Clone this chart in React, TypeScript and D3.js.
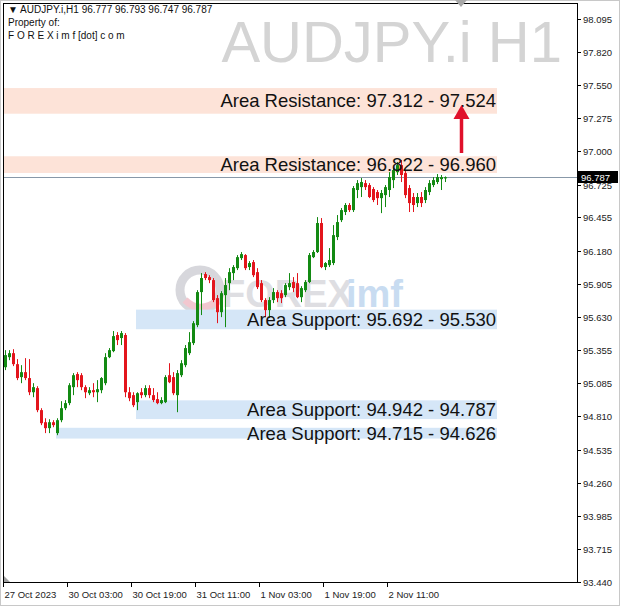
import React from 'react';
import * as d3 from 'd3';

// ---------- DATA ----------
const opens = [
  95.216, 95.299, 95.332, 95.241, 95.134, 95.175, 95.126, 95.009, 95.043, 94.861,
  94.761, 94.712, 94.761, 94.671, 94.778, 94.877, 94.919, 95.051, 95.159, 95.150,
  95.051, 95.001, 95.026, 95.009, 95.026, 95.084, 95.299, 95.349, 95.482, 95.457,
  95.482, 95.009, 94.985, 94.927, 95.009, 94.985, 95.043, 94.985, 94.952, 94.919,
  94.927, 95.150, 95.134, 94.985, 95.150, 95.233, 95.332, 95.415, 95.564, 95.837,
  95.986, 95.961, 95.936, 95.787, 95.671, 95.812, 95.911, 95.994, 96.035, 96.118,
  96.143, 96.044, 96.085, 96.002, 95.911, 95.771, 95.688, 95.771, 95.837, 95.828,
  95.812, 95.878, 95.920, 95.911, 95.795, 95.853, 95.920, 96.126, 96.168, 96.408,
  96.044, 96.060, 96.077, 96.292, 96.432, 96.499, 96.557, 96.515, 96.681, 96.705,
  96.738, 96.722, 96.689, 96.664, 96.614, 96.639, 96.681, 96.763, 96.829, 96.887,
  96.821, 96.697, 96.623, 96.573, 96.623, 96.598, 96.664, 96.722, 96.747, 96.771,
  96.777,
];
const highs = [
  95.357, 95.357, 95.365, 95.283, 95.233, 95.291, 95.283, 95.084, 95.059, 94.877,
  94.794, 94.786, 94.778, 94.794, 94.935, 94.944, 95.084, 95.167, 95.175, 95.167,
  95.067, 95.051, 95.084, 95.109, 95.134, 95.332, 95.374, 95.515, 95.506, 95.515,
  95.498, 95.051, 95.009, 95.009, 95.043, 95.067, 95.067, 95.043, 95.009, 94.968,
  95.150, 95.249, 95.175, 95.192, 95.274, 95.399, 95.506, 95.597, 95.853, 95.994,
  96.002, 95.977, 95.953, 95.812, 95.845, 95.953, 96.035, 96.060, 96.143, 96.168,
  96.151, 96.093, 96.102, 96.035, 95.936, 95.787, 95.795, 95.870, 95.853, 95.853,
  95.911, 95.994, 95.961, 95.994, 95.886, 95.936, 96.160, 96.184, 96.457, 96.449,
  96.085, 96.201, 96.391, 96.474, 96.532, 96.573, 96.573, 96.714, 96.763, 96.780,
  96.763, 96.738, 96.705, 96.681, 96.681, 96.722, 96.829, 96.862, 96.912, 96.929,
  96.846, 96.722, 96.656, 96.656, 96.664, 96.705, 96.763, 96.788, 96.813, 96.805,
  96.793,
];
const lows = [
  95.192, 95.274, 95.225, 95.109, 95.084, 95.109, 94.985, 94.968, 94.844, 94.737,
  94.671, 94.671, 94.720, 94.654, 94.761, 94.861, 94.902, 94.985, 95.051, 95.026,
  94.960, 94.985, 94.968, 94.927, 95.001, 95.067, 95.291, 95.340, 95.399, 95.399,
  94.968, 94.935, 94.886, 94.861, 94.960, 94.968, 94.960, 94.927, 94.910, 94.910,
  94.919, 95.084, 94.985, 94.844, 95.134, 95.216, 95.316, 95.399, 95.547, 95.647,
  95.936, 95.911, 95.754, 95.580, 95.630, 95.547, 95.853, 95.936, 96.019, 96.102,
  96.019, 96.019, 95.961, 95.862, 95.754, 95.630, 95.622, 95.746, 95.754, 95.746,
  95.795, 95.853, 95.837, 95.787, 95.754, 95.837, 95.911, 96.118, 96.160, 96.035,
  96.019, 96.044, 96.060, 96.267, 96.416, 96.474, 96.499, 96.499, 96.614, 96.623,
  96.681, 96.614, 96.581, 96.557, 96.490, 96.540, 96.623, 96.697, 96.805, 96.747,
  96.614, 96.499, 96.499, 96.540, 96.540, 96.573, 96.639, 96.705, 96.730, 96.681,
  96.747,
];
const closes = [
  95.316, 95.332, 95.241, 95.126, 95.175, 95.126, 95.009, 95.051, 94.861, 94.753,
  94.712, 94.761, 94.737, 94.778, 94.877, 94.919, 95.067, 95.150, 95.109, 95.051,
  95.009, 95.026, 95.009, 95.034, 95.126, 95.299, 95.357, 95.473, 95.440, 95.498,
  95.009, 94.960, 94.902, 95.001, 94.985, 95.043, 94.985, 94.944, 94.919, 94.944,
  95.134, 95.092, 95.001, 95.167, 95.249, 95.374, 95.423, 95.580, 95.837, 95.953,
  95.953, 95.936, 95.771, 95.671, 95.828, 95.895, 96.002, 96.044, 96.126, 96.151,
  96.035, 96.077, 95.977, 95.878, 95.771, 95.688, 95.771, 95.837, 95.787, 95.787,
  95.895, 95.911, 95.870, 95.795, 95.870, 95.920, 96.143, 96.168, 96.408, 96.044,
  96.077, 96.102, 96.308, 96.416, 96.515, 96.557, 96.515, 96.697, 96.738, 96.747,
  96.705, 96.623, 96.598, 96.614, 96.656, 96.705, 96.788, 96.846, 96.887, 96.805,
  96.639, 96.573, 96.557, 96.623, 96.573, 96.681, 96.738, 96.763, 96.788, 96.788,
  96.787,
];

const priceTicks = [
  '98.095', '97.820', '97.550', '97.275', '97.000', '96.725', '96.455', '96.180',
  '95.905', '95.630', '95.355', '95.085', '94.810', '94.535', '94.260', '93.985',
  '93.715', '93.440',
];
const dateLabels = ['27 Oct 2023', '30 Oct 03:00', '30 Oct 19:00', '31 Oct 11:00', '1 Nov 03:00', '1 Nov 19:00', '2 Nov 11:00'];
const dateIndex = [0, 16, 32, 48, 64, 80, 96];

const zoneHigh = [97.524, 96.96, 95.692, 94.942, 94.715];
const zoneLow = [97.312, 96.822, 95.53, 94.787, 94.626];
const zoneStart = [-1, -1, 33, 33, 13];
const zoneEnd = [123, 123, 123, 123, 123];
const zoneType = ['res', 'res', 'sup', 'sup', 'sup'];
const zoneLabels = [
  'Area Resistance: 97.312 - 97.524',
  'Area Resistance: 96.822 - 96.960',
  'Area Support: 95.692 - 95.530',
  'Area Support: 94.942 - 94.787',
  'Area Support: 94.715 - 94.626',
];

const currentPrice = 96.787;
const arrowIndex = 114;
const arrowFrom = 96.987;
const arrowTo = 97.384;

const headerLine = '\u25BC AUDJPY.i,H1  96.777 96.793 96.747 96.787';

// ---------- LAYOUT ----------
const W = 620;
const H = 606;
const plotL = 3;
const plotR = 577;
const plotT = 3;
const plotB = 582;

const FONT = '"Liberation Sans", Arial, sans-serif';

export default function App() {
  const y = d3.scaleLinear().domain([93.44, 98.095]).range([582, 19]);
  const x = d3.scaleLinear().domain([0, 110]).range([5, 445]);
  const bull = '#138a13';
  const bear = '#e3151c';

  return (
    <svg
      width={W}
      height={H}
      style={{ position: 'absolute', left: 0, top: 0, background: '#fff' }}
      fontFamily={FONT}
    >
      <rect x={0} y={0} width={W} height={H} fill="#fff" />
      <rect x={0.5} y={0.5} width={W - 1} height={H - 1} fill="none" stroke="#c8c8c8" />

      {/* big symbol watermark */}
      <text x={562} y={62} textAnchor="end" fontSize={58} fill="#d4d4d4" fontFamily={FONT}>
        AUDJPY.i H1
      </text>

      {/* FOREXimf watermark */}
      <g opacity={0.55}>
        <circle cx={200} cy={290} r={20} fill="none" stroke="#b8b8c0" strokeWidth={9} />
        <path d="M185,300 Q200,315 218,300" fill="none" stroke="#e89aa8" strokeWidth={7} />
        <text x={222} y={307} fontSize={38} fontWeight="bold" fill="#c4c4cc">FOREX</text>
        <text x={346} y={307} fontSize={38} fontWeight="bold" fill="#9cc0e6">imf</text>
      </g>

      {/* zones */}
      {zoneHigh.map((hi, k) => {
        const x0 = zoneStart[k] < 0 ? plotL : x(zoneStart[k]) - 1;
        const x1 = x(zoneEnd[k]);
        const y0 = y(hi);
        const y1 = y(zoneLow[k]);
        return (
          <rect
            key={'z' + k}
            x={x0}
            y={y0}
            width={x1 - x0}
            height={y1 - y0}
            fill={zoneType[k] === 'res' ? '#fde3d8' : '#d5e6f7'}
          />
        );
      })}

      {/* current price line */}
      <line x1={plotL} x2={plotR} y1={Math.round(y(currentPrice)) + 0.5} y2={Math.round(y(currentPrice)) + 0.5} stroke="#8898a8" strokeWidth={1} />

      {/* candles */}
      {opens.map((o, i) => {
        const c = closes[i];
        const cx = Math.round(x(i));
        const up = c >= o;
        const col = up ? bull : bear;
        const top = y(Math.max(o, c));
        const bot = y(Math.min(o, c));
        return (
          <g key={'c' + i}>
            <line x1={cx + 0.5} x2={cx + 0.5} y1={y(highs[i])} y2={y(lows[i])} stroke={col} strokeWidth={1} />
            <rect x={cx - 1} y={top} width={3} height={Math.max(1, bot - top)} fill={col} />
          </g>
        );
      })}

      {/* zone labels */}
      {zoneLabels.map((t, k) => {
        const yc = (y(zoneHigh[k]) + y(zoneLow[k])) / 2;
        return (
          <text key={'zl' + k} x={x(zoneEnd[k]) - 1} y={yc + 6.5} textAnchor="end" fontSize={18.5} fill="#111">
            {t}
          </text>
        );
      })}

      {/* arrow */}
      <line x1={Math.round(x(arrowIndex)) + 0.5} x2={Math.round(x(arrowIndex)) + 0.5} y1={y(arrowFrom)} y2={y(arrowTo) + 10} stroke="#e0102a" strokeWidth={3.5} />
      <path
        d={`M${Math.round(x(arrowIndex)) + 0.5},${y(arrowTo)} L${Math.round(x(arrowIndex)) - 7.5},${y(arrowTo) + 14} L${Math.round(x(arrowIndex)) + 8.5},${y(arrowTo) + 14} Z`}
        fill="#e0102a"
      />

      {/* frame */}
      <rect x={plotL + 0.5} y={plotT + 0.5} width={plotR - plotL} height={plotB - plotT} fill="none" stroke="#000" strokeWidth={1} />

      {/* shift marker */}
      <path d="M455,0 L467,0 L461,7 Z" fill="#a8a8a8" />
      <path d="M4,582 L4,576 L10,582 Z" fill="#a0a0a0" />

      {/* price axis */}
      {priceTicks.map((t) => {
        const yy = Math.round(y(+t)) + 0.5;
        return (
          <g key={'t' + t}>
            <line x1={plotR} x2={plotR + 4} y1={yy} y2={yy} stroke="#000" />
            <text x={583} y={yy + 3.5} fontSize={9.5} fill="#222">{t}</text>
          </g>
        );
      })}
      <rect x={578} y={Math.round(y(currentPrice)) - 6} width={40} height={12} fill="#000" />
      <text x={581} y={Math.round(y(currentPrice)) + 3.5} fontSize={9.5} fill="#fff">{currentPrice.toFixed(3)}</text>

      {/* time axis */}
      {dateLabels.map((t, k) => {
        const xx = Math.round(x(dateIndex[k])) - 1.5;
        return (
          <g key={'d' + k}>
            <line x1={xx} x2={xx} y1={plotB} y2={plotB + 5} stroke="#000" />
            <text x={xx + 1} y={598} fontSize={9.5} fill="#222">{t}</text>
          </g>
        );
      })}

      {/* header */}
      <text x={8} y={13} fontSize={10} fill="#111">{headerLine}</text>
      <text x={8} y={26} fontSize={10} fill="#111">Property of:</text>
      <text x={8} y={39} fontSize={10} fill="#111">F O R E X i m f [dot] c o m</text>
    </svg>
  );
}
